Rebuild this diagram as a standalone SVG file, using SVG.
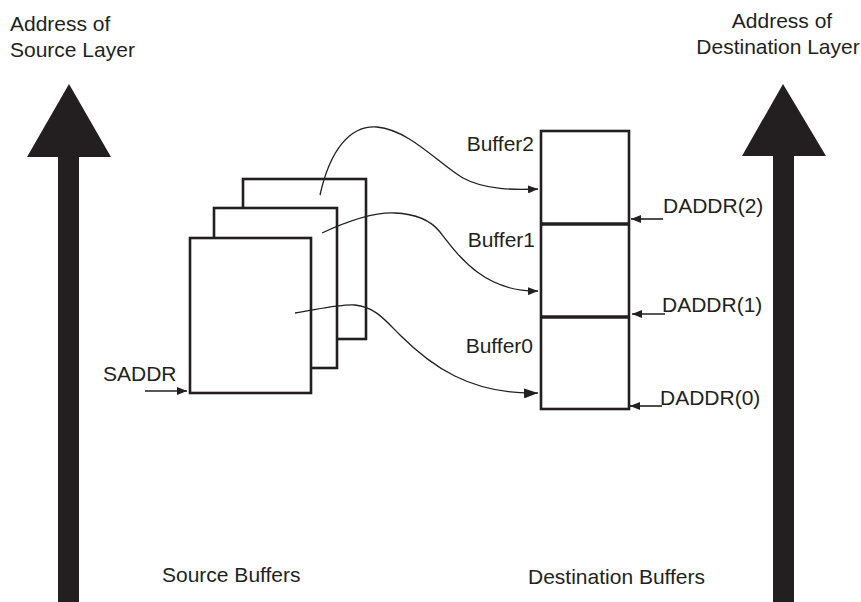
<svg xmlns="http://www.w3.org/2000/svg" width="861" height="602" viewBox="0 0 861 602">
  <style>
    .t { font-family: "Liberation Sans", Arial, Helvetica, sans-serif; font-size: 21px; fill: #231f20; }
    .box { fill: #fff; stroke: #231f20; stroke-width: 2.6; }
    .div { stroke: #231f20; stroke-width: 3.5; }
    .big { fill: #231f20; }
    .link { fill: none; stroke: #231f20; stroke-width: 1.3; }
    .ptr { fill: none; stroke: #231f20; stroke-width: 1.6; }
  </style>
  <defs>
    <marker id="ah" viewBox="0 0 10 8" refX="10" refY="4" markerWidth="10" markerHeight="8" markerUnits="userSpaceOnUse" orient="auto">
      <path d="M0,0 L10,4 L0,8 Z" fill="#231f20"/>
    </marker>
    <marker id="ahL" viewBox="0 0 14 10" refX="14" refY="5" markerWidth="14" markerHeight="10" markerUnits="userSpaceOnUse" orient="auto">
      <path d="M0,0 L14,5 L0,10 Z" fill="#231f20"/>
    </marker>
  </defs>

  <g id="source-axis">
    <polygon class="big" points="69,84 111,157 79,157 79,602 58,602 58,157 27,157"/>
    <text class="t" x="10" y="31">Address of</text>
    <text class="t" x="10" y="57">Source Layer</text>
  </g>

  <g id="dest-axis">
    <polygon class="big" points="783,84 826,156 794,156 794,602 773,602 773,156 742,156"/>
    <text class="t" x="782" y="28" text-anchor="middle">Address of</text>
    <text class="t" x="778" y="54" text-anchor="middle">Destination Layer</text>
  </g>

  <g id="source-buffers">
    <rect class="box" x="243" y="179" width="123" height="160"/>
    <rect class="box" x="214" y="208" width="123" height="160"/>
    <rect class="box" x="190" y="238" width="121" height="155"/>
    <text class="t" x="162" y="582">Source Buffers</text>
  </g>

  <g id="saddr">
    <text class="t" x="103" y="381">SADDR</text>
  </g>

  <g id="dest-buffers">
    <rect class="box" x="541" y="131" width="88" height="278"/>
    <line class="div" x1="541" y1="224" x2="629" y2="224"/>
    <line class="div" x1="541" y1="317" x2="629" y2="317"/>
    <text class="t" x="534" y="151" text-anchor="end">Buffer2</text>
    <text class="t" x="535" y="247" text-anchor="end">Buffer1</text>
    <text class="t" x="533" y="353" text-anchor="end">Buffer0</text>
    <text class="t" x="528" y="584">Destination Buffers</text>
  </g>

  <g id="daddr-labels">
    <text class="t" x="663" y="213">DADDR(2)</text>
    <text class="t" x="662" y="312">DADDR(1)</text>
    <text class="t" x="660" y="405">DADDR(0)</text>
  </g>

  <g id="connectors">
    <path class="link" d="M320,195 C330,150 350,125 377,127 C410,130 440,165 463,178 C485,190 515,190 538,189" marker-end="url(#ah)"/>
    <path class="link" d="M322,233 C350,220 375,212 395,213 C420,214 432,222 440,232 C460,258 485,292 538,291" marker-end="url(#ah)"/>
    <path class="link" d="M295,313 C320,309 340,304 355,305 C375,307 385,320 400,335 C430,365 470,395 538,393" marker-end="url(#ahL)"/>
    <line class="ptr" x1="145" y1="391" x2="187" y2="391" marker-end="url(#ah)"/>
    <line class="ptr" x1="663" y1="219" x2="631" y2="219" marker-end="url(#ah)"/>
    <line class="ptr" x1="665" y1="314" x2="632" y2="314" marker-end="url(#ah)"/>
    <line class="ptr" x1="662" y1="406" x2="630" y2="406" marker-end="url(#ah)"/>
  </g>
</svg>
